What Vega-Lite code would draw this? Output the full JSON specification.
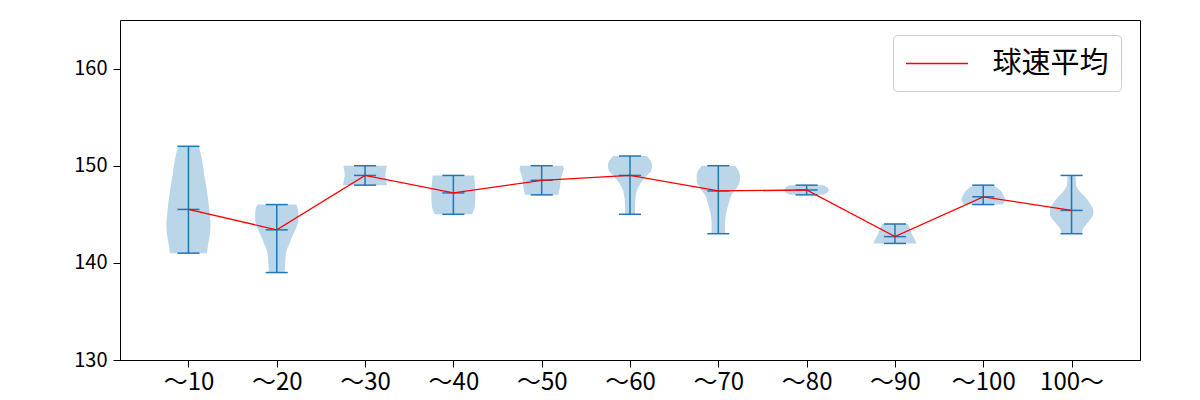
{
  "$schema": "https://vega.github.io/schema/vega-lite/v6.json",
  "width": 1020,
  "height": 340,
  "autosize": "none",
  "padding": {"left": 120, "top": 20, "right": 60, "bottom": 40},
  "config": {
    "font": "Noto Sans CJK JP",
    "view": {"stroke": "black", "strokeWidth": 1},
    "axis": {"domainColor": "black", "tickColor": "black", "labelColor": "black", "grid": false, "tickSize": 7, "labelFont": "Noto Sans CJK JP"}
  },
  "datasets": {
    "violin": [
      {"c": 1, "v": 152, "w": 0.115}, {"c": 1, "v": 151, "w": 0.145}, {"c": 1, "v": 150, "w": 0.165}, {"c": 1, "v": 149, "w": 0.18}, {"c": 1, "v": 148, "w": 0.2}, {"c": 1, "v": 147, "w": 0.215}, {"c": 1, "v": 146, "w": 0.23}, {"c": 1, "v": 145, "w": 0.24}, {"c": 1, "v": 144, "w": 0.25}, {"c": 1, "v": 143, "w": 0.245}, {"c": 1, "v": 142, "w": 0.225}, {"c": 1, "v": 141, "w": 0.21},
      {"c": 2, "v": 146, "w": 0.22}, {"c": 2, "v": 145.5, "w": 0.24}, {"c": 2, "v": 145, "w": 0.245}, {"c": 2, "v": 144.5, "w": 0.245}, {"c": 2, "v": 144, "w": 0.235}, {"c": 2, "v": 143.5, "w": 0.215}, {"c": 2, "v": 143, "w": 0.19}, {"c": 2, "v": 142.5, "w": 0.165}, {"c": 2, "v": 142, "w": 0.145}, {"c": 2, "v": 141.5, "w": 0.12}, {"c": 2, "v": 141, "w": 0.105}, {"c": 2, "v": 140, "w": 0.095}, {"c": 2, "v": 139, "w": 0.09},
      {"c": 3, "v": 150, "w": 0.245}, {"c": 3, "v": 149.5, "w": 0.235}, {"c": 3, "v": 149, "w": 0.23}, {"c": 3, "v": 148.5, "w": 0.24}, {"c": 3, "v": 148, "w": 0.25},
      {"c": 4, "v": 149, "w": 0.235}, {"c": 4, "v": 148.5, "w": 0.24}, {"c": 4, "v": 148, "w": 0.245}, {"c": 4, "v": 147, "w": 0.25}, {"c": 4, "v": 146, "w": 0.245}, {"c": 4, "v": 145.5, "w": 0.235}, {"c": 4, "v": 145, "w": 0.21},
      {"c": 5, "v": 150, "w": 0.24}, {"c": 5, "v": 149.7, "w": 0.25}, {"c": 5, "v": 149.5, "w": 0.245}, {"c": 5, "v": 149, "w": 0.227}, {"c": 5, "v": 148.5, "w": 0.215}, {"c": 5, "v": 148, "w": 0.21}, {"c": 5, "v": 147.5, "w": 0.2}, {"c": 5, "v": 147, "w": 0.19},
      {"c": 6, "v": 151, "w": 0.19}, {"c": 6, "v": 150.5, "w": 0.235}, {"c": 6, "v": 150, "w": 0.25}, {"c": 6, "v": 149.5, "w": 0.24}, {"c": 6, "v": 149, "w": 0.19}, {"c": 6, "v": 148.5, "w": 0.145}, {"c": 6, "v": 148, "w": 0.105}, {"c": 6, "v": 147.5, "w": 0.08}, {"c": 6, "v": 147, "w": 0.068}, {"c": 6, "v": 146, "w": 0.057}, {"c": 6, "v": 145, "w": 0.057},
      {"c": 7, "v": 150, "w": 0.19}, {"c": 7, "v": 149.5, "w": 0.227}, {"c": 7, "v": 149, "w": 0.245}, {"c": 7, "v": 148.5, "w": 0.245}, {"c": 7, "v": 148, "w": 0.227}, {"c": 7, "v": 147.5, "w": 0.19}, {"c": 7, "v": 147, "w": 0.15}, {"c": 7, "v": 146.5, "w": 0.13}, {"c": 7, "v": 146, "w": 0.114}, {"c": 7, "v": 145, "w": 0.087}, {"c": 7, "v": 144, "w": 0.076}, {"c": 7, "v": 143, "w": 0.076},
      {"c": 8, "v": 148, "w": 0.19}, {"c": 8, "v": 147.75, "w": 0.235}, {"c": 8, "v": 147.5, "w": 0.25}, {"c": 8, "v": 147.25, "w": 0.235}, {"c": 8, "v": 147, "w": 0.19},
      {"c": 9, "v": 144, "w": 0.145}, {"c": 9, "v": 143.5, "w": 0.17}, {"c": 9, "v": 143, "w": 0.19}, {"c": 9, "v": 142.5, "w": 0.22}, {"c": 9, "v": 142, "w": 0.245},
      {"c": 10, "v": 148, "w": 0.114}, {"c": 10, "v": 147.5, "w": 0.19}, {"c": 10, "v": 147, "w": 0.227}, {"c": 10, "v": 146.5, "w": 0.245}, {"c": 10, "v": 146, "w": 0.22},
      {"c": 11, "v": 149, "w": 0.045}, {"c": 11, "v": 148.5, "w": 0.048}, {"c": 11, "v": 148, "w": 0.053}, {"c": 11, "v": 147.5, "w": 0.08}, {"c": 11, "v": 147, "w": 0.13}, {"c": 11, "v": 146.5, "w": 0.18}, {"c": 11, "v": 146, "w": 0.215}, {"c": 11, "v": 145.5, "w": 0.245}, {"c": 11, "v": 145, "w": 0.245}, {"c": 11, "v": 144.5, "w": 0.215}, {"c": 11, "v": 144, "w": 0.17}, {"c": 11, "v": 143.5, "w": 0.13}, {"c": 11, "v": 143, "w": 0.114}
    ],
    "stats": [
      {"c": 1, "min": 141, "max": 152, "mean": 145.5},
      {"c": 2, "min": 139, "max": 146, "mean": 143.4},
      {"c": 3, "min": 148, "max": 150, "mean": 149.0},
      {"c": 4, "min": 145, "max": 149, "mean": 147.2},
      {"c": 5, "min": 147, "max": 150, "mean": 148.5},
      {"c": 6, "min": 145, "max": 151, "mean": 149.0},
      {"c": 7, "min": 143, "max": 150, "mean": 147.4},
      {"c": 8, "min": 147, "max": 148, "mean": 147.5},
      {"c": 9, "min": 142, "max": 144, "mean": 142.7},
      {"c": 10, "min": 146, "max": 148, "mean": 146.8},
      {"c": 11, "min": 143, "max": 149, "mean": 145.4}
    ]
  },
  "layer": [
    {
      "data": {"name": "violin"},
      "transform": [
        {"calculate": "datum.c - datum.w", "as": "lo"},
        {"calculate": "datum.c + datum.w", "as": "hi"}
      ],
      "mark": {"type": "area", "orient": "horizontal", "interpolate": "monotone", "color": "#1f77b4", "fillOpacity": 0.3},
      "encoding": {
        "y": {"field": "v", "type": "quantitative", "scale": {"domain": [130, 165], "nice": false, "zero": false}, "axis": {"values": [130, 140, 150, 160], "title": null, "labelPadding": 6, "labelFontSize": 20}},
        "x": {"field": "lo", "type": "quantitative", "scale": {"domain": [0.225, 11.775], "nice": false, "zero": false},
              "axis": {"values": [1, 2, 3, 4, 5, 6, 7, 8, 9, 10, 11], "title": null, "labelPadding": 3, "labelFontSize": 24,
                       "labelExpr": "['～10','～20','～30','～40','～50','～60','～70','～80','～90','～100','100～'][datum.value - 1]"}},
        "x2": {"field": "hi"},
        "detail": {"field": "c", "type": "nominal"}
      }
    },
    {
      "data": {"name": "stats"},
      "mark": {"type": "rule", "color": "#1f77b4", "strokeWidth": 1.5},
      "encoding": {
        "x": {"field": "c", "type": "quantitative"},
        "y": {"field": "min", "type": "quantitative"},
        "y2": {"field": "max"}
      }
    },
    {
      "data": {"name": "stats"},
      "transform": [
        {"fold": ["min", "max", "mean"], "as": ["stat", "val"]},
        {"calculate": "datum.c - 0.125", "as": "x1"},
        {"calculate": "datum.c + 0.125", "as": "x2"}
      ],
      "mark": {"type": "rule", "color": "#1f77b4", "strokeWidth": 1.5},
      "encoding": {
        "x": {"field": "x1", "type": "quantitative"},
        "x2": {"field": "x2"},
        "y": {"field": "val", "type": "quantitative"}
      }
    },
    {
      "data": {"name": "stats"},
      "mark": {"type": "line", "strokeWidth": 1.3},
      "encoding": {
        "x": {"field": "c", "type": "quantitative"},
        "y": {"field": "mean", "type": "quantitative"},
        "color": {"datum": "球速平均", "type": "nominal", "scale": {"range": ["red"]},
                  "legend": {"title": null, "orient": "none", "legendX": 773, "legendY": 15, "symbolType": "M-2,0H2", "symbolSize": 961, "symbolStrokeWidth": 1.5, "symbolOffset": 15.5,
                             "labelFontSize": 29, "labelFont": "Noto Sans CJK JP", "labelColor": "black", "labelOffset": 39, "padding": 12,
                             "strokeColor": "#cccccc", "fillColor": "white", "cornerRadius": 4}}
      }
    }
  ]
}
